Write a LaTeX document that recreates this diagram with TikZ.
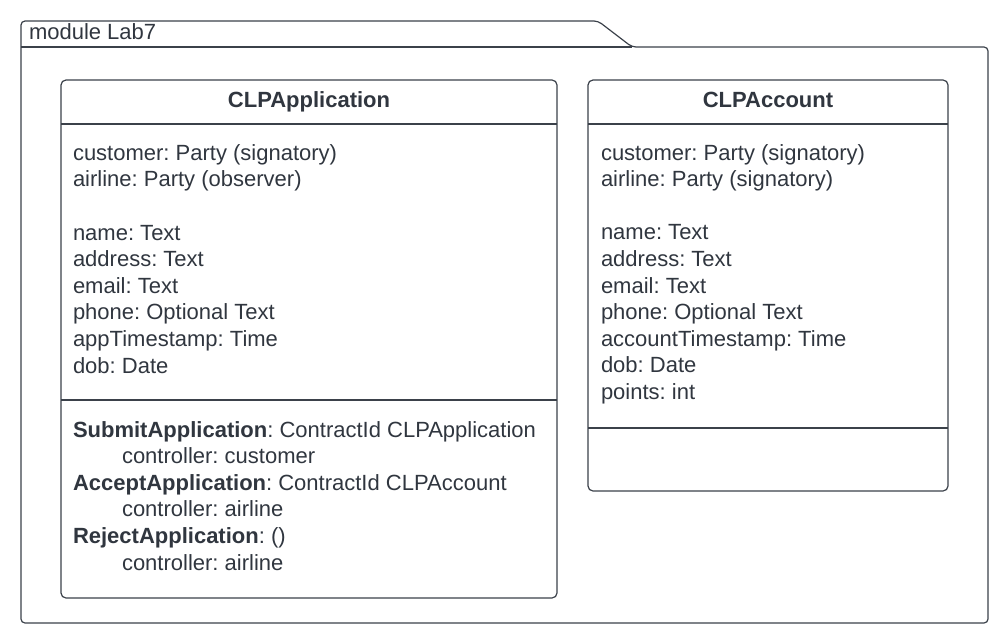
\documentclass[tikz,border=0pt]{standalone}
\usepackage{fontspec}
\setmainfont{Liberation Sans}
\usetikzlibrary{calc, positioning}
\definecolor{umlline}{HTML}{3B414A}
\definecolor{umltext}{HTML}{30363F}
\frenchspacing

\begin{document}
\begin{tikzpicture}[x=1pt, y=-1pt,
  every node/.style={font=\fontsize{22}{26.6}\selectfont, text=umltext,
    inner sep=0pt, outer sep=0pt},
  frame/.style={draw=umlline, line width=1.2pt, rounded corners=4pt},
  classbox/.style={draw=umlline, line width=1.2pt, rounded corners=5pt,
    anchor=north west},
  divider/.style={draw=umlline, line width=1.2pt},
  classname/.style={font=\fontsize{22}{26.6}\selectfont\bfseries, anchor=base},
  members/.style={align=left, anchor=base west} % base = last line
]

\useasboundingbox (0,0) rectangle (1008,642);

% package frame with its tab
\draw[frame] (632,47) -- (988,47) -- (988,623) -- (21,623) -- (21,21)
  -- (598,21) -- cycle;
\draw[divider] (21,47) -- (632,47);
\node[anchor=base west] (modname) at (29,40) {module Lab7};

% class boxes
\node[classbox, minimum width=496pt, minimum height=518pt] (app) at (61,80) {};
\node[classbox, minimum width=360pt, minimum height=411pt] (acct) at (588,80) {};

% compartments
\draw[divider] ([yshift=-44pt]app.north west) -- ([yshift=-44pt]app.north east);
\draw[divider] ([yshift=-320pt]app.north west) -- ([yshift=-320pt]app.north east);
\draw[divider] ([yshift=-44pt]acct.north west) -- ([yshift=-44pt]acct.north east);
\draw[divider] ([yshift=-348pt]acct.north west) -- ([yshift=-348pt]acct.north east);

% class names
\node[classname] (apptitle) at ([yshift=-27pt]app.north) {CLPApplication};
\node[classname] (accttitle) at ([yshift=-27pt]acct.north) {CLPAccount};

% attributes
\node[members] (appattrs) at ([xshift=12pt, yshift=-293pt]app.north west) {%
  customer: Party (signatory)\\
  airline: Party (observer)\\[26.6pt]
  name: Text\\
  address: Text\\
  email: Text\\
  phone: Optional Text\\
  appTimestamp: Time\\
  dob: Date};
\node[members] (acctattrs) at ([xshift=13pt, yshift=-319.5pt]acct.north west) {%
  customer: Party (signatory)\\
  airline: Party (signatory)\\[26.6pt]
  name: Text\\
  address: Text\\
  email: Text\\
  phone: Optional Text\\
  accountTimestamp: Time\\
  dob: Date\\
  points: int};

% choices
\node[members] (appchoices) at ([xshift=12pt, yshift=-490pt]app.north west) {%
  \textbf{SubmitApplication}: ContractId CLPApplication\\
  \hspace*{49pt}controller: customer\\
  \textbf{AcceptApplication}: ContractId CLPAccount\\
  \hspace*{49pt}controller: airline\\
  \textbf{RejectApplication}: ()\\
  \hspace*{49pt}controller: airline};

\end{tikzpicture}
\end{document}
